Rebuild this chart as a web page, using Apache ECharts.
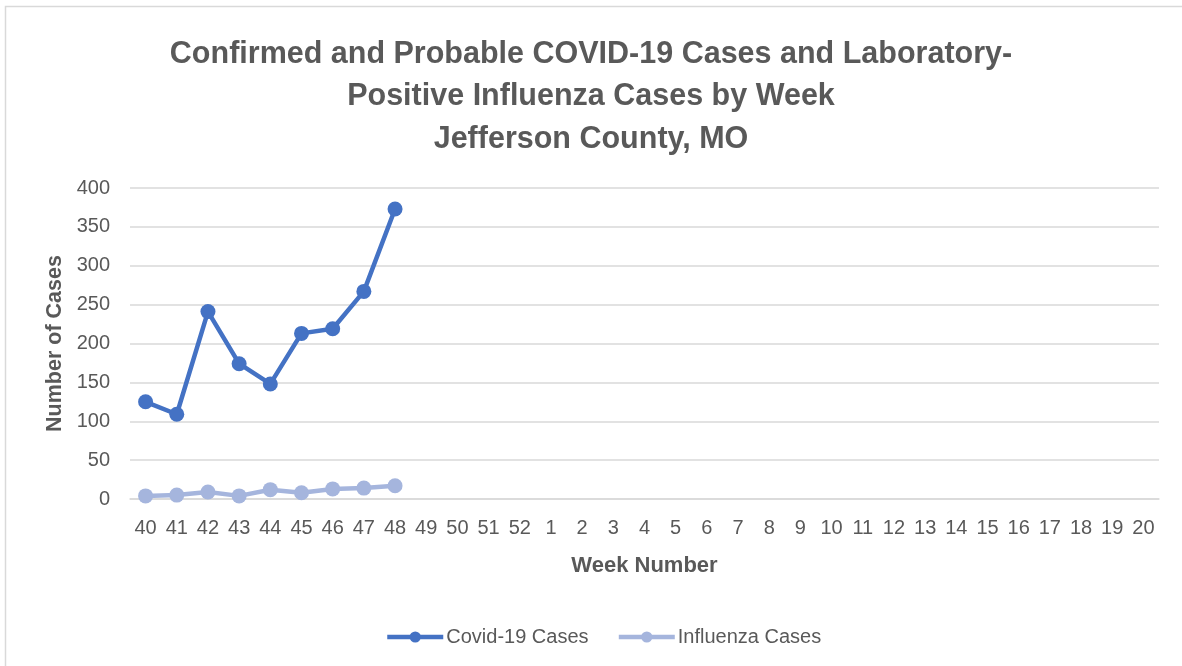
<!DOCTYPE html>
<html>
<head>
<meta charset="utf-8">
<script src="https://cdn.jsdelivr.net/npm/echarts@6/dist/echarts.min.js"></script>
<style>
html,body{margin:0;padding:0;background:#fff;}
#chart{width:1182px;height:666px;}
</style>
</head>
<body>
<div id="chart"></div>
<script>
const weeks = ['40','41','42','43','44','45','46','47','48','49','50','51','52','1','2','3','4','5','6','7','8','9','10','11','12','13','14','15','16','17','18','19','20'];
const covidCases = [125, 109, 241, 174, 148, 213, 219, 267, 373];
const influenzaCases = [4, 5, 9, 4, 12, 8, 13, 14, 17];
const titleText = 'Confirmed and Probable COVID-19 Cases and Laboratory-\nPositive Influenza Cases by Week\nJefferson County, MO';

const FONT = "'Liberation Sans Narrow', 'Arial Narrow', 'Liberation Sans', sans-serif";
const TXT = '#595959';
const chart = echarts.init(document.getElementById('chart'), null, {renderer: 'canvas'});
chart.setOption({
  backgroundColor: '#ffffff',
  animation: false,
  graphic: [{
    type: 'rect',
    shape: {x: 5.5, y: 6.5, width: 1200, height: 700},
    style: {fill: 'none', stroke: '#d9d9d9', lineWidth: 1.5},
    silent: true
  }],
  title: {
    text: titleText,
    left: 'center',
    top: 28,
    textStyle: {fontFamily: FONT, fontWeight: 'bold', fontSize: 30.5, color: TXT, lineHeight: 42.5}
  },
  grid: {left: 130, right: 23, top: 188, bottom: 167, containLabel: false},
  legend: {
    bottom: 14,
    left: 380,
    itemWidth: 56,
    itemHeight: 14,
    itemGap: 28,
    lineStyle: {width: 4.5},
    textStyle: {fontFamily: FONT, fontSize: 20, color: TXT, padding: [0,0,0,-2]},
    data: ['Covid-19 Cases', 'Influenza Cases']
  },
  xAxis: {
    type: 'category',
    data: weeks,
    boundaryGap: true,
    name: 'Week Number',
    nameLocation: 'middle',
    nameGap: 56,
    nameTextStyle: {fontFamily: FONT, fontWeight: 'bold', fontSize: 22, color: TXT},
    axisLine: {show: true, lineStyle: {color: '#d9d9d9', width: 1.5}},
    axisTick: {show: false},
    axisLabel: {fontFamily: FONT, fontSize: 20, color: TXT, margin: 19, interval: 0}
  },
  yAxis: {
    type: 'value',
    min: 0,
    max: 400,
    interval: 50,
    name: 'Number of Cases',
    nameLocation: 'middle',
    nameGap: 63,
    nameTextStyle: {fontFamily: FONT, fontWeight: 'bold', fontSize: 21.5, color: TXT},
    axisLine: {show: false},
    axisTick: {show: false},
    axisLabel: {fontFamily: FONT, fontSize: 20, color: TXT, margin: 20},
    splitLine: {lineStyle: {color: '#d9d9d9', width: 1.5}}
  },
  series: [
    {
      name: 'Covid-19 Cases',
      type: 'line',
      data: covidCases,
      symbol: 'circle',
      symbolSize: 15,
      itemStyle: {color: '#4472c4'},
      lineStyle: {color: '#4472c4', width: 4.5}
    },
    {
      name: 'Influenza Cases',
      type: 'line',
      data: influenzaCases,
      symbol: 'circle',
      symbolSize: 15,
      itemStyle: {color: '#a5b5dd'},
      lineStyle: {color: '#a5b5dd', width: 4.5}
    }
  ]
});
</script>
</body>
</html>
